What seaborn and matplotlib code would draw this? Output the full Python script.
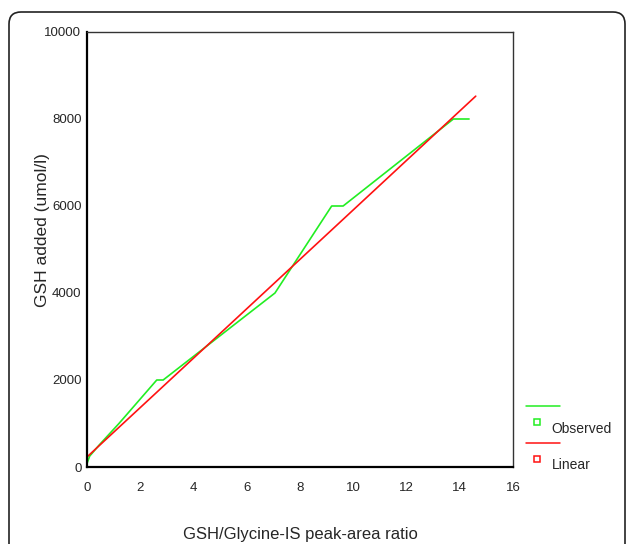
import matplotlib
matplotlib.use("Agg")
import matplotlib.pyplot as plt
from matplotlib.lines import Line2D
from matplotlib.patches import FancyBboxPatch
from matplotlib.transforms import IdentityTransform
import pandas as pd
import seaborn as sns

# observed calibration points (ratio vs GSH added)
obs_x = [0.0, 0.1, 0.45, 1.2, 2.62, 2.86, 7.06, 9.19, 9.62, 13.76, 14.35]
obs_y = [80, 250, 500, 1000, 2000, 2000, 4000, 6000, 6000, 8000, 8000]

# linear fit line
lin_x = [0.0, 0.45, 1.2, 2.62, 7.06, 9.27, 14.6]
lin_y = [230, 486, 912, 1718, 4240, 5495, 8525]

x_ticks = [0, 2, 4, 6, 8, 10, 12, 14, 16]
y_ticks = [0, 2000, 4000, 6000, 8000, 10000]

GREEN = "#22ee22"
RED = "#ff1111"
W, H = 630, 544

sns.set_style("white")
plt.rcParams["font.family"] = ["Liberation Sans", "DejaVu Sans"]

fig = plt.figure(figsize=(W / 100, H / 100), dpi=100)
ax = fig.add_axes([87 / W, 1 - 467 / H, (513 - 87) / W, (467 - 32) / H])

observed = pd.DataFrame({"ratio": obs_x, "gsh": obs_y})
linear = pd.DataFrame({"ratio": lin_x, "gsh": lin_y})

sns.lineplot(data=observed, x="ratio", y="gsh", ax=ax, color=GREEN,
             linewidth=1.2, estimator=None, sort=False)
sns.lineplot(data=linear, x="ratio", y="gsh", ax=ax, color=RED,
             linewidth=1.2, estimator=None, sort=False)

ax.set_xlim(0, 16)
ax.set_ylim(0, 10000)
ax.set_xticks(x_ticks)
ax.set_yticks(y_ticks)
ax.tick_params(direction="out", length=3, width=4, color="black",
               labelsize=9.5)
ax.tick_params(axis="x", pad=8)
ax.tick_params(axis="y", pad=1)

for side in ["left", "bottom"]:
    ax.spines[side].set_linewidth(1.6)
    ax.spines[side].set_color("black")
for side in ["top", "right"]:
    ax.spines[side].set_linewidth(1.0)
    ax.spines[side].set_color("#333333")

ax.set_xlabel("")
ax.set_ylabel("")
fig.text(300 / W, 1 - 534 / H, "GSH/Glycine-IS peak-area ratio",
         ha="center", va="center", fontsize=12)
fig.text(43 / W, 1 - 230 / H, "GSH added (umol/l)", rotation=90,
         ha="center", va="center", fontsize=12.5)

# legend drawn in the SPSS style: line above, square below
for color, label, y_line, y_sq, y_txt in [
    (GREEN, "Observed", 405.7, 422.3, 429),
    (RED, "Linear", 443.3, 459.3, 465),
]:
    fig.add_artist(Line2D([526 / W, 560 / W], [1 - y_line / H] * 2,
                          transform=fig.transFigure, color=color, lw=1.1))
    fig.add_artist(Line2D([536.7 / W], [1 - y_sq / H], marker="s",
                          markersize=4, markerfacecolor="white",
                          markeredgecolor=color, markeredgewidth=1.1,
                          linestyle="none", transform=fig.transFigure))
    fig.text(551.7 / W, 1 - y_txt / H, label, ha="left", va="center",
             fontsize=10)

# rounded outer frame, cut off at the bottom of the image
frame = FancyBboxPatch((9, -40), 616, 572,
                       boxstyle="round,pad=0,rounding_size=12",
                       transform=IdentityTransform(), fill=False,
                       edgecolor="#222222", linewidth=1.2)
fig.patches.append(frame)

fig.savefig("out.png", dpi=100)
plt.close(fig)
